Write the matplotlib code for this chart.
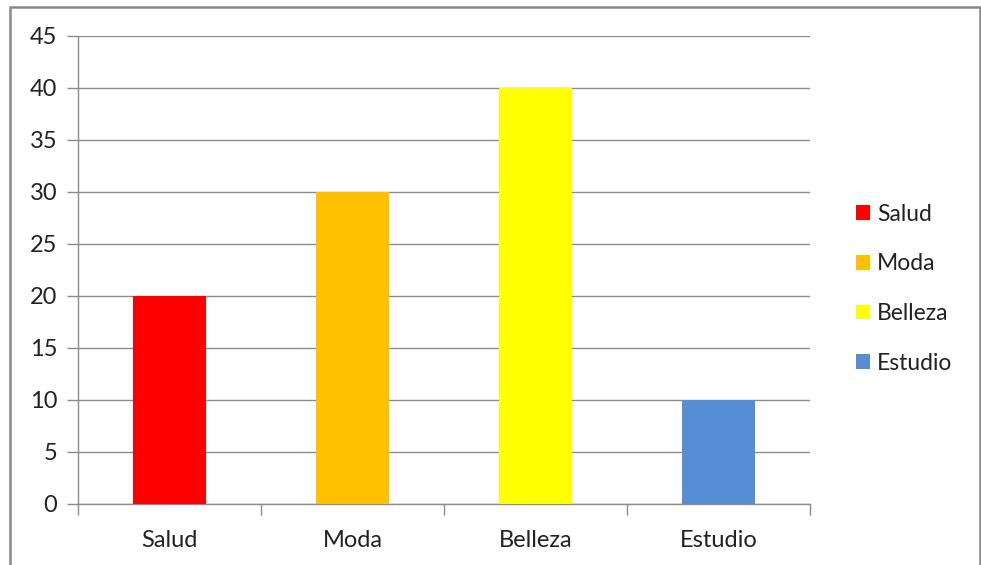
import matplotlib

matplotlib.use("Agg")
import matplotlib.pyplot as plt
from matplotlib.patches import Patch, Rectangle

categories = ["Salud", "Moda", "Belleza", "Estudio"]
values = [20, 30, 40, 10]
colors = ["#FF0000", "#FFC000", "#FFFF00", "#558ED5"]
y_ticks = [0, 5, 10, 15, 20, 25, 30, 35, 40, 45]

plt.rcParams["font.family"] = ["Lato", "DejaVu Sans"]
grid_color = "#8C8C8C"
text_color = "#222222"

fig = plt.figure(figsize=(9.81, 5.65), dpi=100)
ax = fig.add_axes([78 / 981, 61 / 565, 732 / 981, 468 / 565])

x = list(range(len(categories)))
ax.bar(x, values, width=0.4, color=colors, zorder=3)

ax.set_xlim(-0.5, len(categories) - 0.5)
ax.set_ylim(0, 45)
ax.set_yticks(y_ticks)
ax.set_yticklabels([str(v) for v in y_ticks], fontsize=17, color=text_color)
ax.yaxis.grid(True, color=grid_color, linewidth=1.0, zorder=0)

ax.set_xticks(x)
ax.set_xticklabels(categories, fontsize=17, color=text_color)
ax.tick_params(axis="x", which="major", length=0, pad=19)
ax.set_xticks([i - 0.5 for i in range(len(categories) + 1)], minor=True)
ax.tick_params(axis="x", which="minor", length=8, color=grid_color, width=1.0)
ax.tick_params(axis="y", length=8, color=grid_color, width=1.0, pad=7)

for side in ("top", "right"):
    ax.spines[side].set_visible(False)
for side in ("left", "bottom"):
    ax.spines[side].set_color(grid_color)
    ax.spines[side].set_linewidth(1.0)

handles = [Patch(facecolor=c, edgecolor="none", label=n) for n, c in zip(categories, colors)]
leg = fig.legend(handles=handles, loc="center left", bbox_to_anchor=(835 / 981, 0.489),
                 frameon=False, fontsize=16.5, handlelength=0.62, handleheight=0.62,
                 handletextpad=0.3, labelspacing=1.25)
for t in leg.get_texts():
    t.set_color(text_color)

fig.patches.append(Rectangle((10 / 981, -0.02), 970 / 981, 0.02 + 558 / 565,
                             transform=fig.transFigure, fill=False,
                             edgecolor="#888888", linewidth=1.8))

fig.savefig("out.png", dpi=100)
